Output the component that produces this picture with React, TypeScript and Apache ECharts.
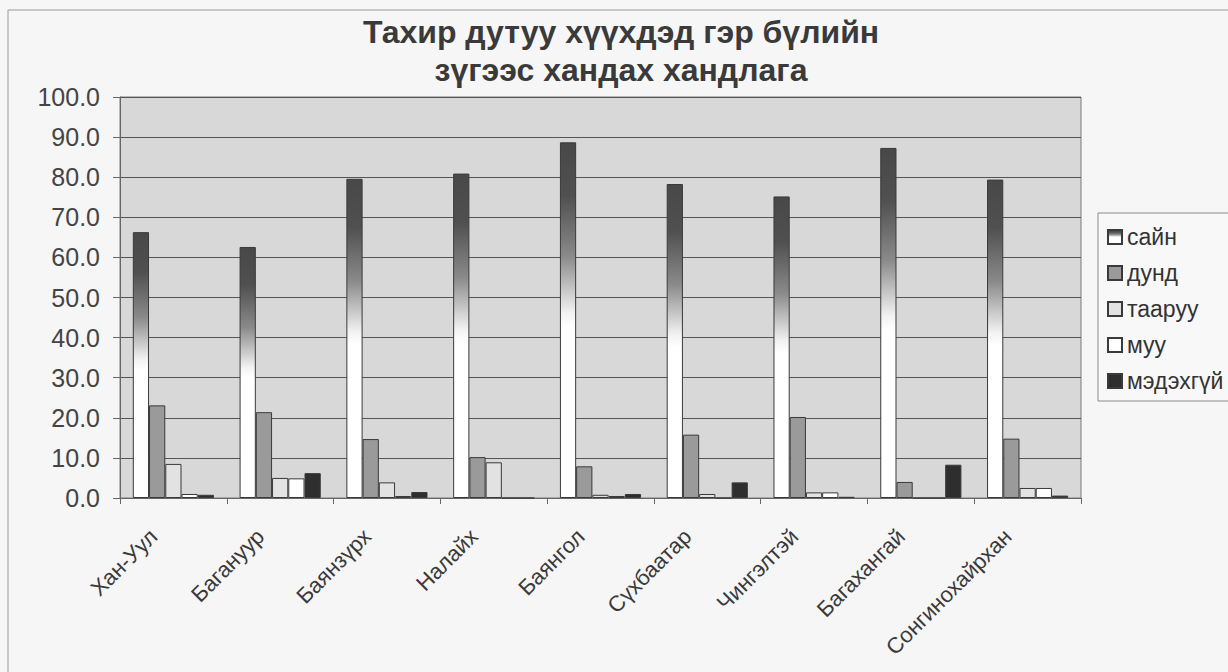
import React, { useEffect, useRef } from "react";
import * as echarts from "echarts";

const titleText = "Тахир дутуу хүүхдэд гэр бүлийн\nзүгээс хандах хандлага";
const categories = ["Хан-Уул", "Багануур", "Баянзүрх", "Налайх", "Баянгол", "Сүхбаатар", "Чингэлтэй", "Багахангай", "Сонгинохайрхан"];
const seriesNames = ["сайн", "дунд", "тааруу", "муу", "мэдэхгүй"];
const sain = [66.3, 62.6, 79.6, 80.9, 88.7, 78.3, 75.2, 87.3, 79.4];
const dund = [23.1, 21.4, 14.7, 10.2, 7.9, 15.8, 20.2, 4.0, 14.8];
const taaruu = [8.5, 5.0, 3.9, 8.9, 0.8, 1.0, 1.4, 0, 2.5];
const muu = [1.0, 4.9, 0.5, 0, 0.5, 0, 1.4, 0, 2.5];
const medekhgui = [0.8, 6.2, 1.5, 0, 1.0, 3.9, 0.3, 8.3, 0.6];
const yTicks = { min: 0, max: 100, interval: 10 };

const FONT = "Liberation Sans, Arial, sans-serif";

export default function App() {
  const ref = useRef<HTMLDivElement>(null);
  useEffect(() => {
    const chart = echarts.init(ref.current!, null, { renderer: "svg" });
    const border = { borderColor: "#3a3a3a", borderWidth: 1 };
    const mk = (name: string, data: number[], color: any) => ({
      name,
      type: "bar",
      data,
      barGap: "0%",
      barCategoryGap: "24%",
      itemStyle: { color, ...border },
    });
    chart.setOption({
      animation: false,
      backgroundColor: "#f6f6f6",
      title: {
        text: titleText,
        left: 621,
        top: 13,
        padding: 0,
        textAlign: "center",
        textStyle: { fontFamily: FONT, fontSize: 32, fontWeight: "bold", color: "#3a3a3a", lineHeight: 38 },
      },
      legend: {
        orient: "vertical",
        left: 1098,
        top: 213,
        itemWidth: 14,
        itemHeight: 14,
        itemGap: 12,
        itemTextGap: 10,
        padding: [12, 12, 8, 9],
        borderColor: "#8a8a8a",
        borderWidth: 1,
        backgroundColor: "#f8f8f8",
        icon: "rect",
        textStyle: { fontFamily: FONT, fontSize: 23, color: "#333", lineHeight: 24 },
        data: seriesNames,
      },
      grid: {
        left: 120,
        right: 147,
        top: 97,
        bottom: 174,
        show: true,
        backgroundColor: "#d8d8d8",
        borderColor: "#7a7a7a",
        borderWidth: 1,
      },
      xAxis: {
        type: "category",
        data: categories,
        axisLine: { lineStyle: { color: "#666" } },
        axisTick: { show: true, length: 6, lineStyle: { color: "#666" } },
        axisLabel: {
          rotate: 45,
          margin: 15,
          padding: [0, 28, 0, 0],
          fontFamily: FONT,
          fontSize: 22,
          color: "#3a3a3a",
        },
      },
      yAxis: {
        type: "value",
        min: yTicks.min,
        max: yTicks.max,
        interval: yTicks.interval,
        axisLine: { show: true, lineStyle: { color: "#666" } },
        axisTick: { show: true, length: 7, lineStyle: { color: "#666" } },
        splitLine: { lineStyle: { color: "#555", width: 1 } },
        axisLabel: {
          formatter: (v: number) => v.toFixed(1),
          margin: 20,
          fontFamily: FONT,
          fontSize: 25,
          color: "#444",
        },
      },
      graphic: [
        {
          type: "rect",
          shape: { x: 8, y: 10, width: 1240, height: 700 },
          style: { fill: "none", stroke: "#9a9a9a", lineWidth: 1 },
          silent: true,
        },
      ],
      series: [
        mk(
          seriesNames[0],
          sain,
          new echarts.graphic.LinearGradient(0, 0, 0, 1, [
            { offset: 0, color: "#484848" },
            { offset: 0.15, color: "#505050" },
            { offset: 0.32, color: "#8a8a8a" },
            { offset: 0.48, color: "#f2f2f2" },
            { offset: 0.52, color: "#ffffff" },
            { offset: 1, color: "#ffffff" },
          ])
        ),
        mk(seriesNames[1], dund, "#9a9a9a"),
        mk(seriesNames[2], taaruu, "#e2e2e2"),
        mk(seriesNames[3], muu, "#ffffff"),
        mk(seriesNames[4], medekhgui, "#2e2e2e"),
      ],
    });
    return () => chart.dispose();
  }, []);
  return <div ref={ref} style={{ position: "fixed", left: 0, top: 0, width: 1228, height: 672 }} />;
}
